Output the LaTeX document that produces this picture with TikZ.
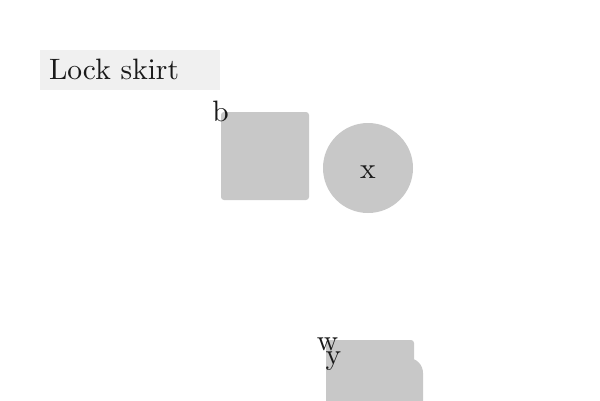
\documentclass[tikz,border=0pt]{standalone}
\font\bigrm=cmr10 at 29.5pt
\begin{document}
\begin{tikzpicture}[x=1pt,y=-1pt,
  shapefill/.style={fill=shapegray,draw=none,inner sep=0pt,outer sep=0pt},
  lbl/.style={inner sep=0pt,outer sep=0pt,font=\bigrm,text=black!90}]
\definecolor{shapegray}{RGB}{200,200,200}
\definecolor{titlegray}{RGB}{240,240,240}
\useasboundingbox (0,0) rectangle (600,400);
\fill[white] (0,0) rectangle (600,400);
% title
\node[fill=titlegray,minimum width=180pt,minimum height=40pt,inner sep=0pt,anchor=north west] (title) at (40,50) {};
\node[lbl,anchor=base west] (titletext) at (49,79) {Lock skirt};
% square
\node[shapefill,rounded corners=3pt,minimum width=88pt,minimum height=88pt,anchor=north west] (sq) at (221,112) {};
\node[lbl,anchor=base] (b) at (220.5,121) {b};
% circle
\node[shapefill,circle,minimum size=90pt] (circ) at (368,168) {};
\node[lbl,anchor=base] (x) at (368,178) {x};
% bottom shapes
\node[shapefill,rounded corners=3pt,minimum width=88pt,minimum height=80pt,anchor=north west] (bot1) at (326,340) {};
\node[shapefill,rounded corners=15pt,minimum width=97pt,minimum height=80pt,anchor=north west] (bot2) at (326,358) {};
\node[lbl,anchor=base] (w) at (327.5,350) {w};
\node[lbl,anchor=base] (y) at (333.5,364) {y};
\end{tikzpicture}
\end{document}
